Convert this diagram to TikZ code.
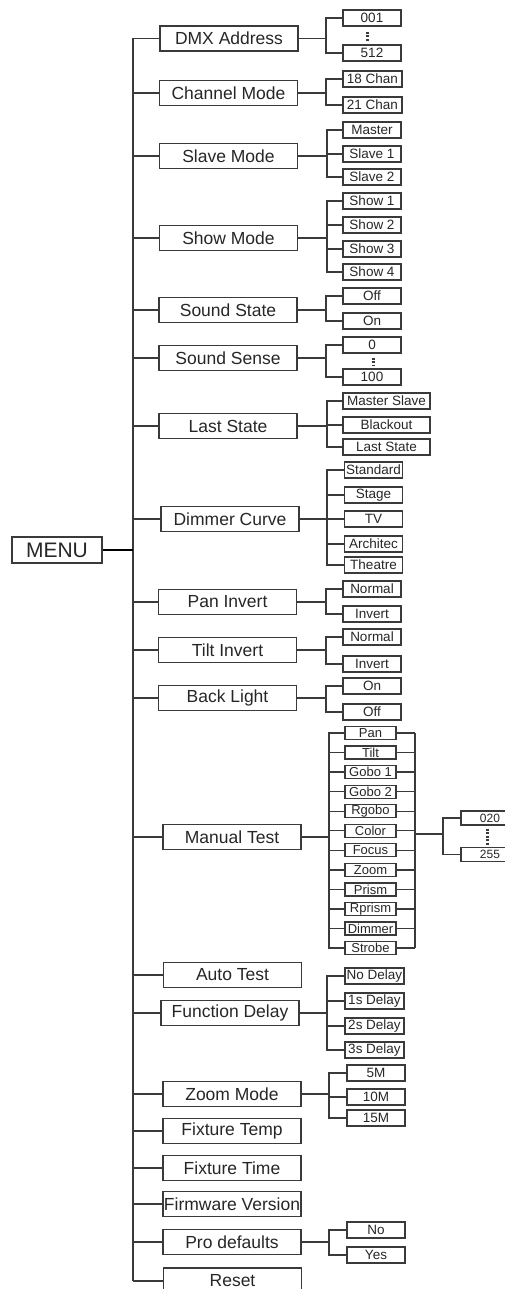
\documentclass[tikz,border=0pt]{standalone}
\usepackage{fontspec}
\setmainfont{Liberation Sans}
\definecolor{ln}{HTML}{3A3A3A}
\definecolor{tx}{HTML}{262626}
\tikzset{
  x=1pt, y=-1pt,
  mainbox/.style={draw=ln, line width=1.5pt, text=tx, minimum width=138pt, minimum height=25pt, inner sep=0pt, font=\fontsize{17.5}{17.5}\selectfont},
  subbox/.style={draw=ln, line width=1.3pt, text=tx, minimum width=58pt, minimum height=16pt, inner sep=0pt, font=\fontsize{13.5}{13.5}\selectfont},
  widebox/.style={subbox, minimum width=87pt},
  mtbox/.style={subbox, minimum width=51pt, minimum height=13pt, font=\fontsize{13}{13}\selectfont},
  valbox/.style={subbox, minimum width=58pt, minimum height=14pt, font=\fontsize{12}{12}\selectfont},
  menubox/.style={draw=ln, line width=1.5pt, text=tx, minimum width=90pt, minimum height=26pt, inner sep=0pt, font=\fontsize{21}{21}\selectfont},
  conn/.style={draw=ln, line width=1.3pt},
  dotsty/.style={draw=ln, line width=3pt, dash pattern=on 2.2pt off 1.3pt},
}
\newcommand{\fan}[3]{%
  \coordinate (fanx) at (#2,0);
  \draw[conn] (#1.east) -- (#1.east -| fanx);
  \foreach \c in {#3} {\draw[conn] (\c.west) -- (\c.west -| fanx) -- (#1.east -| fanx);}
}
\begin{document}
\begin{tikzpicture}
\useasboundingbox (0,0) rectangle (505,1289);
\clip (0,0) rectangle (505,1289);
\coordinate (spine) at (133,0);
% MENU
\node[menubox] (menu) at (57,550) {MENU};
% main items
\node[mainbox] (dmx) at (229,38.5) {DMX Address};
\node[mainbox] (chan) at (228.5,93) {Channel Mode};
\node[mainbox] (slave) at (228.5,156) {Slave Mode};
\node[mainbox] (show) at (228.5,238) {Show Mode};
\node[mainbox] (sstate) at (228,310) {Sound State};
\node[mainbox] (ssense) at (228,358) {Sound Sense};
\node[mainbox] (last) at (228,426) {Last State};
\node[mainbox] (dim) at (230,519) {Dimmer Curve};
\node[mainbox] (pan) at (227.5,602) {Pan Invert};
\node[mainbox] (tilt) at (227.5,650) {Tilt Invert};
\node[mainbox] (back) at (227.5,698) {Back Light};
\node[mainbox] (manual) at (232,837) {Manual Test};
\node[mainbox] (auto) at (232.5,975) {Auto Test};
\node[mainbox] (fdelay) at (230,1013) {Function Delay};
\node[mainbox] (zoom) at (232,1094) {Zoom Mode};
\node[mainbox] (ftemp) at (232,1131) {Fixture Temp};
\node[mainbox] (ftime) at (232,1168) {Fixture Time};
\node[mainbox] (firm) at (232,1204) {Firmware Version};
\node[mainbox] (pro) at (232,1242) {Pro defaults};
\node[mainbox, minimum height=26pt] (reset) at (232.5,1281) {Reset};
% spine
\draw[conn] (dmx.west -| spine) -- (reset.west -| spine);
\draw[conn, draw=black] (menu.east) -- (menu.east -| spine);
\foreach \m in {dmx,chan,slave,show,sstate,ssense,last,dim,pan,tilt,back,manual,auto,fdelay,zoom,ftemp,ftime,firm,pro,reset}
  {\draw[conn] (\m.west -| spine) -- (\m.west);}
% DMX
\node[subbox] (d001) at (372,18) {001};
\node[subbox] (d512) at (372,53) {512};
\draw[dotsty] ([xshift=-5pt,yshift=-5pt]d001.south) -- ([xshift=-5pt,yshift=3pt]d512.north);
\fan{dmx}{326}{d001,d512}
% Channel mode
\node[subbox, minimum width=59pt] (c18) at (372.5,79) {18 Chan};
\node[subbox, minimum width=59pt] (c21) at (372.5,105) {21 Chan};
\fan{chan}{326}{c18,c21}
% Slave mode
\node[subbox] (smaster) at (372,130) {Master};
\node[subbox] (sl1) at (372,154) {Slave 1};
\node[subbox] (sl2) at (372,177) {Slave 2};
\fan{slave}{327}{smaster,sl1,sl2}
% Show mode
\node[subbox] (sh1) at (372,201) {Show 1};
\node[subbox] (sh2) at (372,225) {Show 2};
\node[subbox] (sh3) at (372,249) {Show 3};
\node[subbox] (sh4) at (372,272) {Show 4};
\fan{show}{327}{sh1,sh2,sh3,sh4}
% Sound state
\node[subbox] (soff) at (372,296) {Off};
\node[subbox] (son) at (372,321) {On};
\fan{sstate}{326}{soff,son}
% Sound sense
\node[subbox] (s0) at (372,345) {0};
\node[subbox] (s100) at (372,377) {100};
\draw[dotsty] ([xshift=1pt,yshift=-4pt]s0.south) -- ([xshift=1pt,yshift=2pt]s100.north);
\fan{ssense}{326}{s0,s100}
% Last state
\node[widebox] (lms) at (386.5,401) {Master Slave};
\node[widebox] (lbo) at (386.5,425) {Blackout};
\node[widebox] (lls) at (386.5,447) {Last State};
\fan{last}{327}{lms,lbo,lls}
% Dimmer curve
\node[subbox] (dstd) at (373.5,470) {Standard};
\node[subbox] (dstg) at (373.5,495) {Stage};
\node[subbox] (dtv) at (373.5,519) {TV};
\node[subbox] (darc) at (373.5,544) {Architec};
\node[subbox] (dthe) at (373.5,565) {Theatre};
\fan{dim}{327}{dstd,dstg,dtv,darc,dthe}
% Pan invert
\node[subbox] (pnorm) at (372,589) {Normal};
\node[subbox] (pinv) at (372,614) {Invert};
\fan{pan}{326}{pnorm,pinv}
% Tilt invert
\node[subbox] (tnorm) at (372,637) {Normal};
\node[subbox] (tinv) at (372,664) {Invert};
\fan{tilt}{326}{tnorm,tinv}
% Back light
\node[subbox] (bon) at (372,686) {On};
\node[subbox] (boff) at (372,712) {Off};
\fan{back}{326}{bon,boff}
% Manual test
\foreach \lab [count=\i from 0] in {Pan,Tilt,Gobo 1,Gobo 2,Rgobo,Color,Focus,Zoom,Prism,Rprism,Dimmer,Strobe}
  {\node[mtbox] (mt\i) at (370.5,{733+19.55*\i}) {\lab};}
\fan{manual}{329}{mt0,mt1,mt2,mt3,mt4,mt5,mt6,mt7,mt8,mt9,mt10,mt11}
\coordinate (rb) at (415,0);
\foreach \i in {0,...,11} {\draw[conn] (mt\i.east) -- (mt\i.east -| rb);}
\draw[conn] (mt0.east -| rb) -- (mt11.east -| rb);
\coordinate (rj) at (415,834);
\node[valbox] (v020) at (490,818) {020};
\node[valbox] (v255) at (490,854.5) {255};
\draw[dotsty] ([xshift=-3pt,yshift=-3pt]v020.south) -- ([xshift=-3pt,yshift=2pt]v255.north);
\coordinate (vb) at (443,0);
\draw[conn] (rj) -- (rj -| vb);
\foreach \c in {v020,v255} {\draw[conn] (\c.west) -- (\c.west -| vb) -- (rj -| vb);}
% Function delay
\node[subbox, minimum width=59pt] (fd0) at (374.5,976) {No Delay};
\node[subbox, minimum width=59pt] (fd1) at (374.5,1001) {1s Delay};
\node[subbox, minimum width=59pt] (fd2) at (374.5,1026) {2s Delay};
\node[subbox, minimum width=59pt] (fd3) at (374.5,1050) {3s Delay};
\fan{fdelay}{327}{fd0,fd1,fd2,fd3}
% Zoom mode
\node[subbox] (z5) at (376,1073) {5M};
\node[subbox] (z10) at (376,1097) {10M};
\node[subbox] (z15) at (376,1118) {15M};
\fan{zoom}{329}{z5,z10,z15}
% Pro defaults
\node[subbox] (pno) at (376,1230) {No};
\node[subbox] (pyes) at (376,1255) {Yes};
\fan{pro}{329}{pno,pyes}
\end{tikzpicture}
\end{document}
